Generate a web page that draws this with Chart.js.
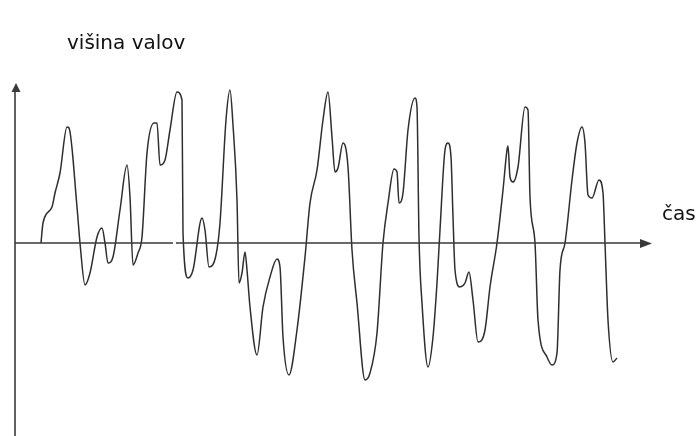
<!DOCTYPE html>
<html>
<head>
<meta charset="utf-8">
<script src="https://cdn.jsdelivr.net/npm/chart.js@4"></script>
<style>
  body { margin: 0; background: #fff; }
  canvas { display: block; }
</style>
</head>
<body>
<canvas id="chart" width="698" height="436"></canvas>
<script>
// wave trace: time on x, wave height on y (0 = time axis)
const time = [
  2.6, 2.8, 3.7, 4.0, 4.5, 5.2, 5.4, 6.2, 6.5, 7.0,
  7.5, 8.2, 8.7, 9.0, 9.3, 9.8, 10.5, 11.2, 11.5, 11.8,
  12.3, 12.7, 13.2, 13.9, 14.2, 14.5, 15.0, 15.5, 16.2, 16.7,
  16.8, 17.3, 17.8, 18.7, 19.0, 19.4, 20.1, 20.5, 21.1, 21.5,
  21.8, 22.2, 22.4, 22.7, 23.0, 23.2, 23.5, 24.2, 24.8, 25.5,
  26.2, 26.5, 26.8, 27.4, 28.2, 29.0, 29.5, 30.2, 30.8, 31.3,
  31.7, 32.0, 32.3, 32.8, 33.3, 33.7, 34.2, 35.0, 35.5, 36.2,
  36.8, 37.3, 37.9, 38.2, 38.4, 38.8, 39.3, 40.0, 40.2, 40.4,
  40.7, 41.3, 41.8, 42.2, 42.5, 43.0, 43.3, 43.6, 43.8, 44.0,
  44.5, 45.0, 45.4, 45.8, 46.3, 47.0, 47.5, 48.2, 48.8, 49.2,
  49.3, 49.5, 49.8, 50.3, 51.0, 51.3, 51.5, 52.0, 52.3, 53.2,
  53.7, 54.2, 54.5, 55.0, 55.7, 56.2, 56.7, 57.0, 57.3, 57.7,
  58.4, 58.8, 59.0, 59.3, 59.8, 60.2
];
const height = [
  0.0, 2.0, 3.6, 5.0, 7.0, 11.6, 11.5, 3.6, 0.0, -4.2,
  -3.0, 0.6, 1.5, 0.0, -2.0, -1.4, 3.3, 7.8, 4.6, -2.2,
  -1.0, 0.6, 9.0, 12.0, 12.0, 7.8, 8.3, 11.3, 15.1, 14.3,
  1.0, -3.5, -2.7, 2.5, 1.3, -2.4, -1.2, 2.0, 12.3, 15.3,
  11.8, 4.3, -4.0, -3.0, -0.9, -2.7, -6.4, -11.2, -6.4, -3.4,
  -1.6, -2.4, -9.4, -13.2, -8.7, -1.4, 4.0, 7.3, 12.3, 15.1,
  10.6, 7.1, 7.5, 10.0, 7.6, -0.7, -6.0, -13.7, -13.0, -9.0,
  0.0, 4.0, 7.4, 7.1, 4.0, 5.0, 11.3, 14.5, 13.6, 0.6,
  -6.0, -12.4, -9.4, -4.0, 1.3, 9.3, 10.0, 8.6, 2.6, -2.7,
  -4.4, -4.0, -2.9, -5.7, -9.9, -8.7, -4.4, 0.0, 5.3, 9.3,
  9.7, 6.6, 6.1, 7.6, 13.6, 13.3, 4.6, 0.0, -7.7, -11.4,
  -12.2, -11.0, -2.7, 0.0, 6.3, 10.0, 11.6, 10.0, 4.8, 4.5,
  6.3, 5.0, 0.0, -7.7, -11.9, -11.5
];
const yLabel = 'višina valov';
const xLabel = 'čas';

const points = time.map((t, i) => ({ x: t, y: height[i] }));

// hand drawn axes with arrows plus the two labels
const sketchAxes = {
  id: 'sketchAxes',
  afterDraw(chart) {
    const ctx = chart.ctx;
    const xs = chart.scales.x;
    const ys = chart.scales.y;
    const x0 = xs.getPixelForValue(0);
    const y0 = ys.getPixelForValue(0);
    const yTop = ys.getPixelForValue(ys.max);
    const yBot = ys.getPixelForValue(ys.min);
    const xEnd = xs.getPixelForValue(63.7);
    const gapA = xs.getPixelForValue(15.8);
    const gapB = xs.getPixelForValue(16.1);

    ctx.save();
    ctx.strokeStyle = '#3a3a3a';
    ctx.fillStyle = '#3a3a3a';
    ctx.lineWidth = 1.6;

    ctx.beginPath();
    ctx.moveTo(x0, yBot);
    ctx.lineTo(x0, yTop + 8);
    ctx.stroke();
    ctx.beginPath();
    ctx.moveTo(x0 + 1, yTop);
    ctx.lineTo(x0 - 3.5, yTop + 9);
    ctx.lineTo(x0 + 5.5, yTop + 9);
    ctx.closePath();
    ctx.fill();

    ctx.beginPath();
    ctx.moveTo(x0, y0);
    ctx.lineTo(gapA, y0);
    ctx.moveTo(gapB, y0);
    ctx.lineTo(xEnd - 10, y0);
    ctx.stroke();
    ctx.beginPath();
    ctx.moveTo(xEnd, y0 + 0.5);
    ctx.lineTo(xEnd - 12, y0 - 4);
    ctx.lineTo(xEnd - 12, y0 + 5);
    ctx.closePath();
    ctx.fill();

    ctx.fillStyle = '#111';
    ctx.font = '20px "DejaVu Sans"';
    ctx.textAlign = 'left';
    ctx.textBaseline = 'alphabetic';
    ctx.fillText(yLabel, 67, 49);
    ctx.fillText(xLabel, 662, 220);
    ctx.restore();
  }
};

new Chart(document.getElementById('chart'), {
  type: 'line',
  data: {
    datasets: [{
      data: points,
      borderColor: '#2e2e2e',
      borderWidth: 1.5,
      pointRadius: 0,
      cubicInterpolationMode: 'monotone',
      fill: false
    }]
  },
  options: {
    responsive: false,
    animation: false,
    layout: { padding: { left: 15, right: 43, top: 83, bottom: 0 } },
    scales: {
      x: { type: 'linear', min: 0, max: 64, display: false },
      y: { type: 'linear', min: -19.3, max: 16, display: false }
    },
    plugins: {
      legend: { display: false },
      tooltip: { enabled: false }
    }
  },
  plugins: [sketchAxes]
});
</script>
</body>
</html>
